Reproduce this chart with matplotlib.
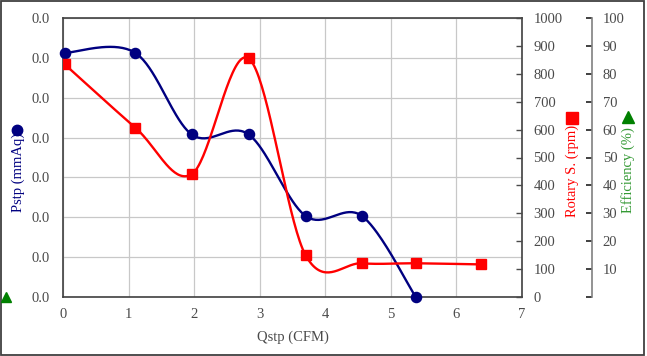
import numpy as np
import matplotlib
matplotlib.use("Agg")
import matplotlib.pyplot as plt
from matplotlib.lines import Line2D
from matplotlib.patches import Rectangle

# ---- data ----
qstp = [0.02, 1.10, 1.96, 2.83, 3.70, 4.56, 5.38]
pstp = [0.0613, 0.0613, 0.0408, 0.0408, 0.0203, 0.0203, 0.0]
q_rot = [0.02, 1.10, 1.96, 2.83, 3.70, 4.56, 5.38, 6.38]
rotary = [835, 607, 440, 856, 149, 120, 120, 116]
x_ticks = [0, 1, 2, 3, 4, 5, 6, 7]
p_ticks = [0.0, 0.01, 0.02, 0.03, 0.04, 0.05, 0.06, 0.07]
p_labels = ["0.0"] * 8
rot_ticks = [0, 100, 200, 300, 400, 500, 600, 700, 800, 900, 1000]
eff_ticks = [0, 10, 20, 30, 40, 50, 60, 70, 80, 90, 100]
eff_labels = [""] + [str(v) for v in eff_ticks[1:]]

plt.rcParams['font.family'] = ['Liberation Serif', 'DejaVu Serif']
TXT = '#4a4a4a'
NAVY = '#000080'
RED = '#ff0000'
GREEN = '#008000'
GREENTXT = '#339933'


def smooth(x, y, n=40):
    pts = np.column_stack([x, y]).astype(float)
    out = []
    for i in range(len(pts) - 1):
        p0 = pts[i - 1] if i > 0 else pts[i]
        p1 = pts[i]
        p2 = pts[i + 1]
        p3 = pts[i + 2] if i + 2 < len(pts) else pts[i + 1]
        c1 = p1 + (p2 - p0) / 6.0
        c2 = p2 - (p3 - p1) / 6.0
        t = np.linspace(0, 1, n)[:, None]
        seg = ((1 - t) ** 3) * p1 + 3 * ((1 - t) ** 2) * t * c1 + 3 * (1 - t) * t ** 2 * c2 + t ** 3 * p2
        out.append(seg if i == 0 else seg[1:])
    s = np.vstack(out)
    return s[:, 0], s[:, 1]


W, H = 647, 356
fig = plt.figure(figsize=(W / 100, H / 100), dpi=100)
x0, x1, y0, y1 = 63.3, 521.7, 18.3, 296.7
ax = fig.add_axes([x0 / W, 1 - y1 / H, (x1 - x0) / W, (y1 - y0) / H])

ax.set_xlim(0, 7)
ax.set_ylim(0, 0.07)
ax.set_xticks(x_ticks)
ax.set_yticks(p_ticks)
ax.set_yticklabels(p_labels)
ax.grid(True, color='#c8c8c8', linewidth=0.9)
ax.set_axisbelow(True)
for sp in ax.spines.values():
    sp.set_color('#404040')
    sp.set_linewidth(1.2)
ax.tick_params(axis='both', length=0, labelsize=10.5, colors=TXT)
ax.tick_params(axis='x', pad=8)
ax.tick_params(axis='y', pad=10)
ax.set_xlabel("Qstp (CFM)", fontsize=10.5, color=TXT, labelpad=7)

sx, sy = smooth(qstp, pstp)
ax.plot(sx, sy, color=NAVY, linewidth=1.7, zorder=3, clip_on=False)
ax.plot(qstp, pstp, linestyle='none', marker='o', markersize=7.3, color=NAVY, zorder=4, clip_on=False)

ax2 = ax.twinx()
ax2.set_ylim(0, 1000)
ax2.set_yticks(rot_ticks)
ax2.tick_params(axis='y', direction='in', length=4, width=1, labelsize=10.5, colors=TXT, pad=8.5)
for sp in ax2.spines.values():
    sp.set_visible(False)
rx, ry = smooth(q_rot, rotary)
ax2.plot(rx, ry, color=RED, linewidth=1.7, zorder=3)
ax2.plot(q_rot, rotary, linestyle='none', marker='s', markersize=7.3, color=RED, zorder=4)

ax3 = ax.twinx()
ax3.set_ylim(0, 100)
ax3.set_yticks(eff_ticks)
ax3.set_yticklabels(eff_labels)
for k in ['top', 'left', 'bottom']:
    ax3.spines[k].set_visible(False)
ax3.spines['right'].set_position(('axes', (592.3 - x0) / (x1 - x0)))
ax3.spines['right'].set_color('#808080')
ax3.spines['right'].set_linewidth(1.2)
ax3.tick_params(axis='y', direction='in', length=4, width=1.2, labelsize=10.5, colors=TXT, pad=7.5)
ax3.tick_params(axis='y', color='#202020')


def fx(px):
    return px / W


def fy(py):
    return 1 - py / H


fig.text(fx(18), fy(172), "Pstp (mmAq)", rotation=90, ha='center', va='center', color=NAVY, fontsize=10.5)
fig.add_artist(Line2D([fx(17)], [fy(130)], marker='o', markersize=7.5, color=NAVY, transform=fig.transFigure))
fig.text(fx(572), fy(171), "Rotary S. (rpm)", rotation=90, ha='center', va='center', color=RED, fontsize=10.5)
fig.add_artist(Line2D([fx(572)], [fy(118)], marker='s', markersize=8, color=RED, transform=fig.transFigure))
fig.text(fx(628), fy(170), "Efficiency (%)", rotation=90, ha='center', va='center', color=GREENTXT, fontsize=10.5)
fig.add_artist(Line2D([fx(628)], [fy(117)], marker='^', markersize=8.5, color=GREEN, transform=fig.transFigure))
fig.add_artist(Line2D([fx(6)], [fy(297)], marker='^', markersize=7, color=GREEN, transform=fig.transFigure))

fig.add_artist(Rectangle((0.5 / W, 1.5 / H), (W - 3.5) / W, (H - 2.5) / H, transform=fig.transFigure,
                         fill=False, edgecolor='#404040', linewidth=1.3))

fig.savefig("out.png", dpi=100)
